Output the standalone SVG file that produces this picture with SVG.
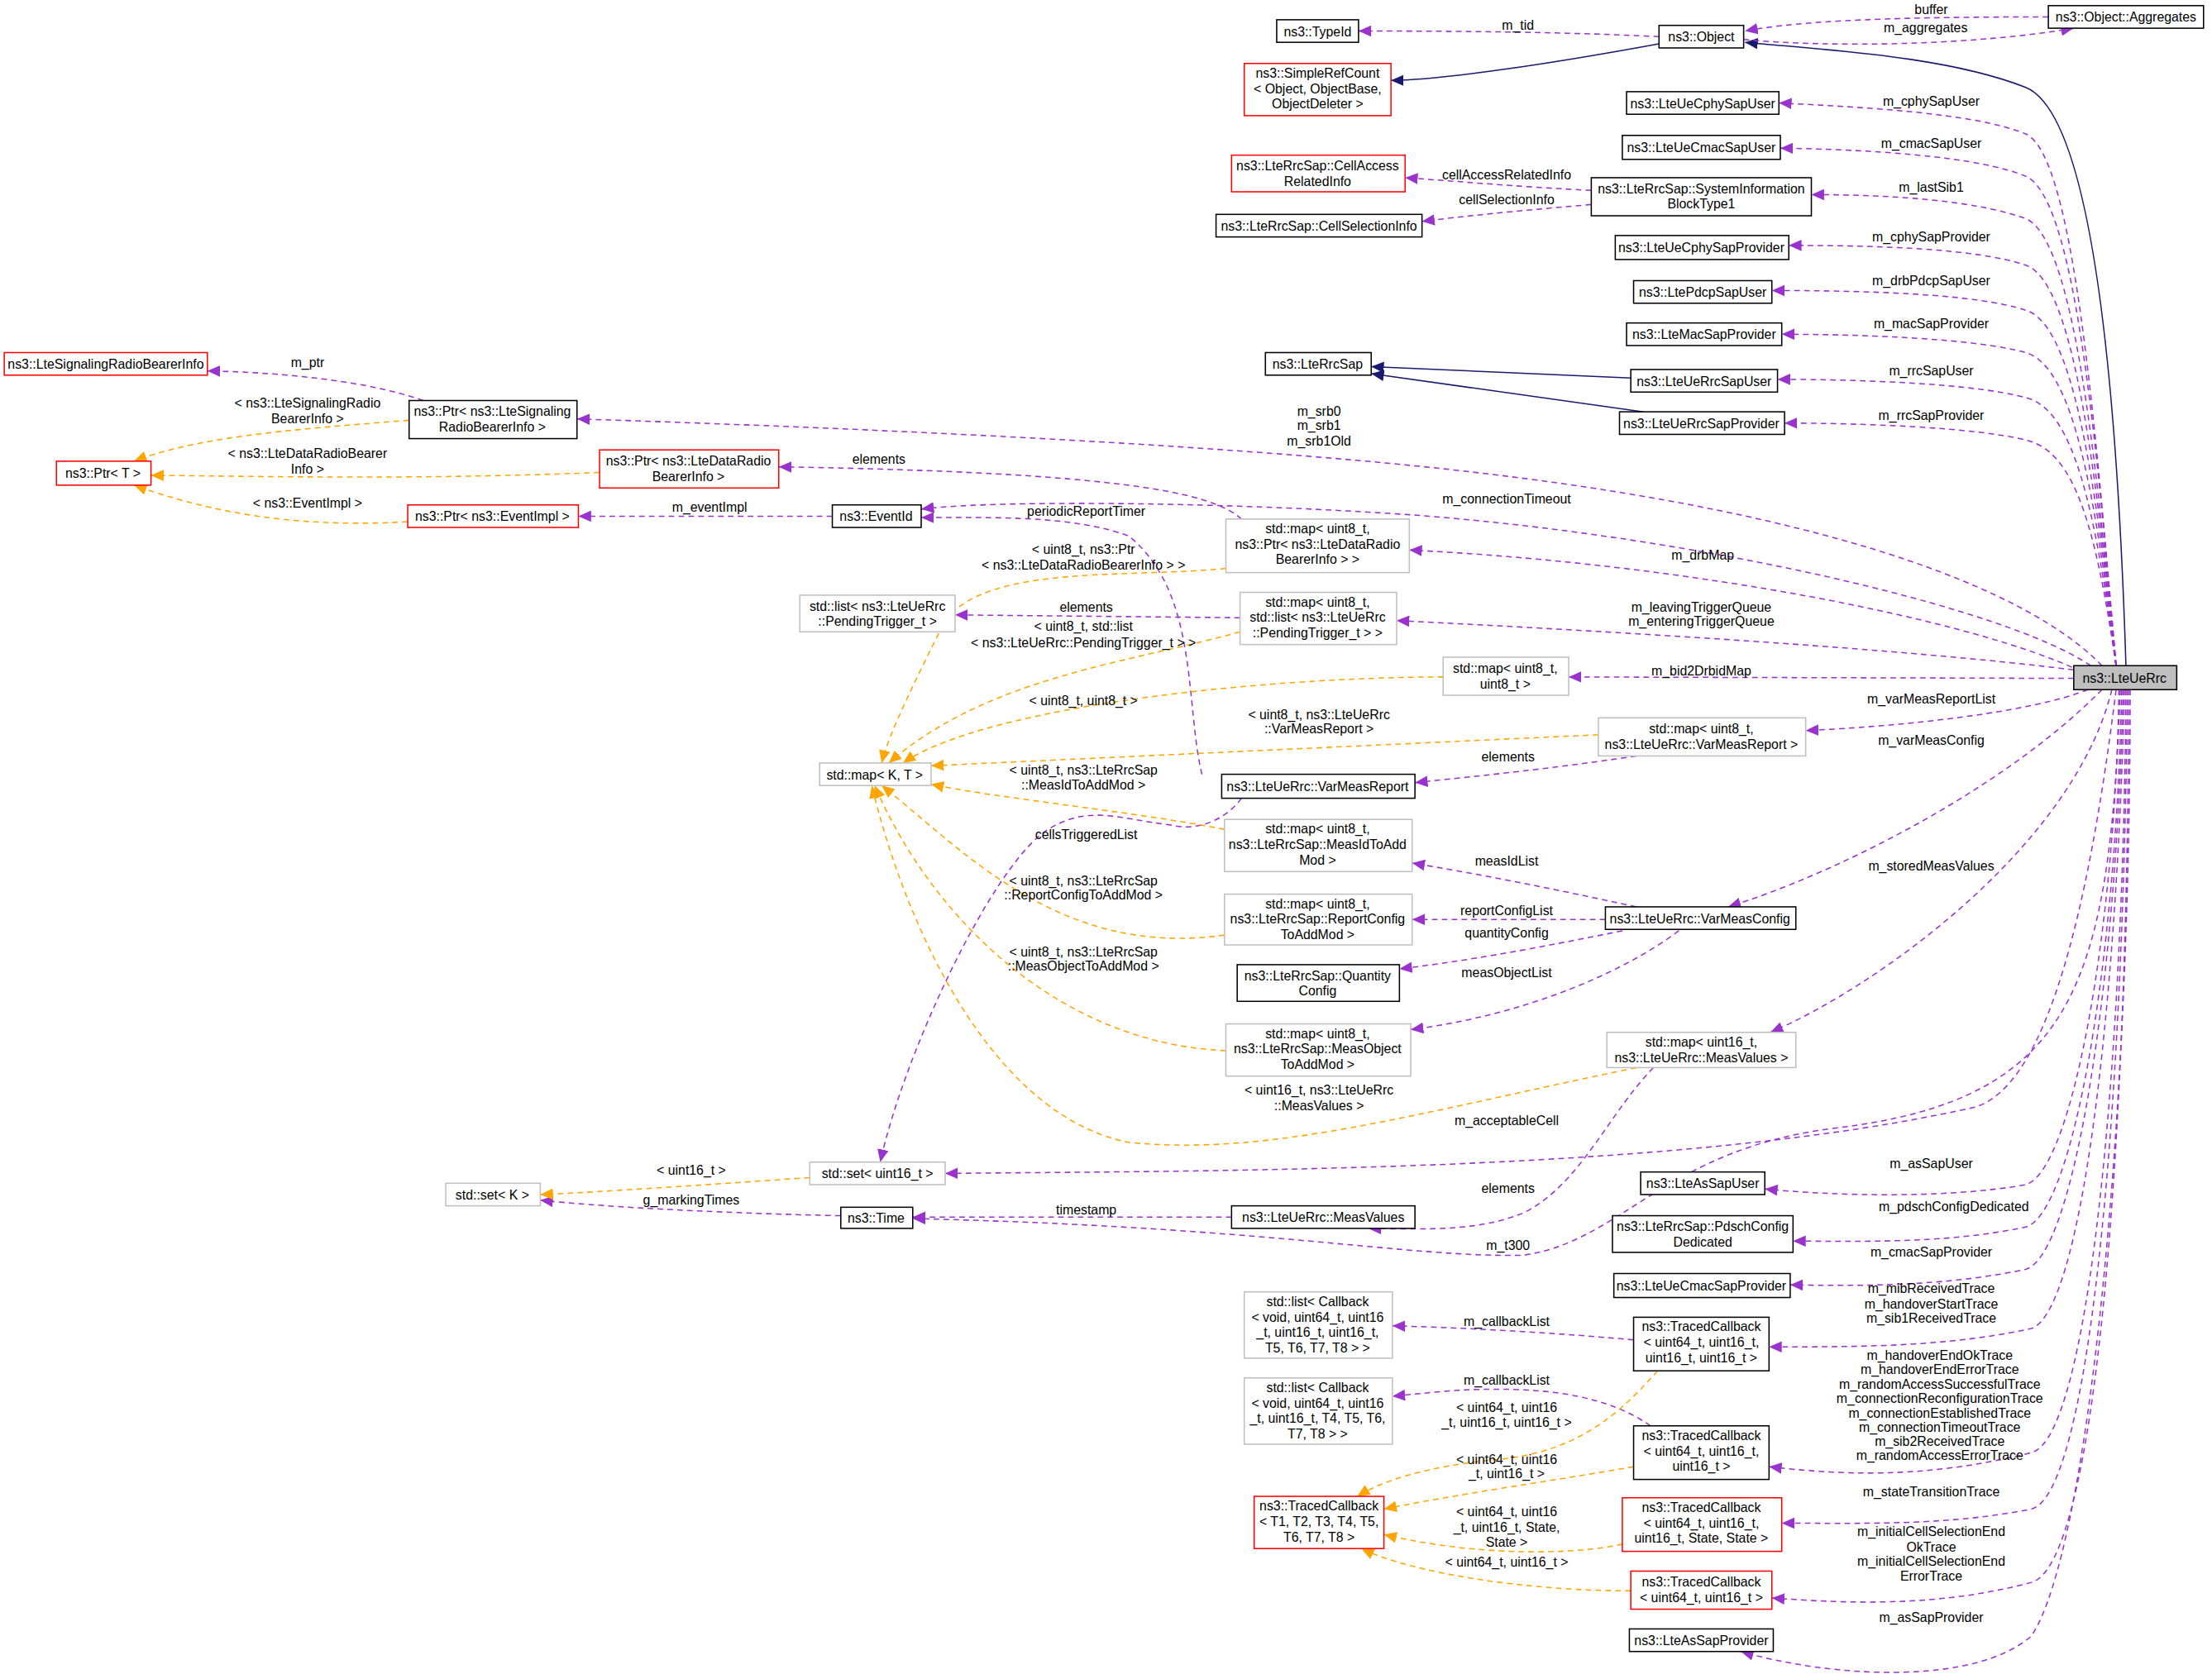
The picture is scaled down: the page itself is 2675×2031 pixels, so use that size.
<svg xmlns="http://www.w3.org/2000/svg" width="2675" height="2031" viewBox="0 0 2675 2031">
<style>
rect{stroke-width:0.9}
.n rect{fill:#fff;stroke:#000}
.r rect{fill:#fff;stroke:#ff0000}
.g rect{fill:#fff;stroke:#bfbfbf}
.s rect{fill:#bfbfbf;stroke:#000}
text{font-family:"Liberation Sans",Arial,sans-serif;font-size:9.3px;fill:#000}
.n text,.r text,.g text,.s text{text-anchor:middle}
.lb{text-anchor:middle}
.p{fill:none;stroke:#9a32cd;stroke-width:0.9;stroke-dasharray:4,3;marker-end:url(#mp)}
.o{fill:none;stroke:#ffa500;stroke-width:0.9;stroke-dasharray:4,3;marker-end:url(#mo)}
.b{fill:none;stroke:#191970;stroke-width:0.9;marker-end:url(#mb)}
</style>
<defs>
<marker id="mp" markerUnits="userSpaceOnUse" markerWidth="10" markerHeight="8" refX="9" refY="4" orient="auto"><path d="M0,0L9,4L0,8z" fill="#9a32cd"/></marker>
<marker id="mo" markerUnits="userSpaceOnUse" markerWidth="10" markerHeight="8" refX="9" refY="4" orient="auto"><path d="M0,0L9,4L0,8z" fill="#ffa500"/></marker>
<marker id="mb" markerUnits="userSpaceOnUse" markerWidth="10" markerHeight="8" refX="9" refY="4" orient="auto"><path d="M0,0L9,4L0,8z" fill="#191970"/></marker>
</defs>
<rect width="2675" height="2031" fill="#fff"/>
<g transform="scale(1.706)">
<g id="edges">
<path class="b" d="M1507,472C1500,250 1480,80 1436,62C1380,40 1300,36 1237,30"/>
<path class="b" d="M1176,31C1100,45 1020,57 986,57"/>
<path class="b" d="M1156,268L972,260"/>
<path class="b" d="M1165,292L972,265"/>
<path class="p" d="M1176,26C1100,22 1000,22 963,22"/>
<path class="p" d="M1452,12C1350,12 1280,14 1237,22"/>
<path class="p" d="M1236,28C1300,34 1400,32 1470,20"/>
<path class="p" d="M1128,135C1070,132 1040,129 996,126"/>
<path class="p" d="M1128,145C1070,150 1040,153 1008,157"/>
<path class="p" d="M1500,472C1485,300 1470,110 1436,95C1400,80 1320,76 1261,73"/>
<path class="p" d="M1500,472C1485,300 1470,140 1436,125C1400,110 1320,106 1262,105"/>
<path class="p" d="M1500,472C1485,320 1470,170 1436,155C1400,142 1340,138 1284,138"/>
<path class="p" d="M1500,472C1485,330 1470,200 1436,188C1400,176 1330,174 1268,174"/>
<path class="p" d="M1500,472C1485,340 1470,230 1436,220C1400,208 1320,206 1256,206"/>
<path class="p" d="M1500,472C1485,350 1470,260 1436,250C1400,240 1320,237 1263,237"/>
<path class="p" d="M1500,472C1485,360 1470,290 1436,282C1400,272 1320,269 1260,269"/>
<path class="p" d="M1500,472C1485,370 1470,320 1436,312C1400,303 1320,300 1265,300"/>
<path class="p" d="M1490,472C1440,420 1300,360 1000,330C800,310 500,300 409,297"/>
<path class="p" d="M1482,472C1420,430 1200,380 1000,365C850,355 700,355 653,361"/>
<path class="p" d="M852,549C840,500 850,420 800,380C760,365 700,367 653,367"/>
<path class="p" d="M880,368C860,350 800,335 552,331"/>
<path class="p" d="M1475,476C1400,440 1200,400 999,390"/>
<path class="p" d="M1470,475C1350,460 1150,448 990,440"/>
<path class="p" d="M879,438L677,436"/>
<path class="p" d="M1470,481L1112,480"/>
<path class="p" d="M1480,489C1440,505 1350,515 1280,518"/>
<path class="p" d="M1490,489C1420,560 1300,620 1225,643"/>
<path class="p" d="M1497,489C1470,600 1330,700 1255,732"/>
<path class="p" d="M1160,536C1100,545 1050,550 1003,555"/>
<path class="p" d="M1160,643C1100,630 1050,620 1001,612"/>
<path class="p" d="M1138,652L1001,652"/>
<path class="p" d="M1150,660C1100,670 1050,680 992,687"/>
<path class="p" d="M1190,660C1150,690 1080,720 1000,730"/>
<path class="p" d="M1500,489C1480,650 1450,770 1400,785C1200,830 900,830 670,832"/>
<path class="p" d="M880,566C870,580 850,590 830,585C790,580 770,570 740,590C700,620 640,750 624,824"/>
<path class="p" d="M1172,757C1140,790 1120,840 1080,860C1050,872 1020,872 970,871"/>
<path class="p" d="M1503,489C1495,700 1470,780 1300,800C1180,815 1150,880 1080,890C1000,892 900,870 647,864"/>
<path class="p" d="M873,863L647,863"/>
<path class="p" d="M596,862C500,860 420,855 383,851"/>
<path class="p" d="M1502,489C1500,650 1470,830 1436,840C1380,850 1300,848 1251,843"/>
<path class="p" d="M1504,489C1500,680 1470,860 1436,870C1380,882 1320,880 1271,880"/>
<path class="p" d="M1505,489C1500,700 1470,890 1436,900C1380,912 1320,912 1269,911"/>
<path class="p" d="M1506,489C1500,720 1475,930 1440,942C1380,955 1320,955 1254,955"/>
<path class="p" d="M1507,489C1505,760 1480,1020 1440,1030C1360,1050 1300,1045 1254,1040"/>
<path class="p" d="M1508,489C1505,800 1480,1060 1440,1070C1380,1082 1320,1080 1263,1080"/>
<path class="p" d="M1509,489C1508,820 1485,1110 1440,1122C1380,1138 1320,1138 1256,1133"/>
<path class="p" d="M1510,489C1510,800 1480,1100 1440,1160C1400,1195 1300,1190 1234,1171"/>
<path class="p" d="M1158,950C1100,945 1050,942 987,940"/>
<path class="p" d="M1170,1011C1140,990 1100,985 1060,985C1030,985 1010,988 987,990"/>
<path class="p" d="M300,284C260,270 200,264 147,263"/>
<path class="p" d="M590,366L410,366"/>
<path class="o" d="M574,835C500,840 430,845 383,847"/>
<path class="o" d="M290,298C200,305 140,310 95,327"/>
<path class="o" d="M425,335C300,340 200,338 107,337"/>
<path class="o" d="M289,370C200,375 140,360 95,344"/>
<path class="o" d="M869,403C800,410 700,400 670,440C650,480 630,520 625,541"/>
<path class="o" d="M879,448C800,470 700,480 630,541"/>
<path class="o" d="M1023,480C900,480 700,500 640,541"/>
<path class="o" d="M1133,521L660,543"/>
<path class="o" d="M868,588C800,575 700,565 660,556"/>
<path class="o" d="M868,663C750,680 680,600 625,557"/>
<path class="o" d="M869,745C750,740 660,650 620,557"/>
<path class="o" d="M1160,757C1000,790 900,820 800,810C700,790 640,650 618,557"/>
<path class="o" d="M1175,972C1150,1000 1120,1030 1060,1035C1010,1040 980,1050 962,1061"/>
<path class="o" d="M1158,1040C1100,1050 1030,1060 981,1070"/>
<path class="o" d="M1150,1095C1100,1105 1030,1100 981,1088"/>
<path class="o" d="M1156,1128C1080,1128 1000,1115 965,1098"/>
</g>
<g id="labels">
<text class="lb" x="1076" y="21">m_tid</text>
<text class="lb" x="1369" y="10">buffer</text>
<text class="lb" x="1365" y="23">m_aggregates</text>
<text class="lb" x="1369" y="75">m_cphySapUser</text>
<text class="lb" x="1369" y="105">m_cmacSapUser</text>
<text class="lb" x="1369" y="136">m_lastSib1</text>
<text class="lb" x="1369" y="171">m_cphySapProvider</text>
<text class="lb" x="1369" y="202">m_drbPdcpSapUser</text>
<text class="lb" x="1369" y="233">m_macSapProvider</text>
<text class="lb" x="1369" y="266">m_rrcSapUser</text>
<text class="lb" x="1369" y="298">m_rrcSapProvider</text>
<text class="lb" x="1068" y="127">cellAccessRelatedInfo</text>
<text class="lb" x="1068" y="145">cellSelectionInfo</text>
<text class="lb" x="935" y="295">m_srb0</text>
<text class="lb" x="935" y="305">m_srb1</text>
<text class="lb" x="935" y="316">m_srb1Old</text>
<text class="lb" x="1068" y="357">m_connectionTimeout</text>
<text class="lb" x="770" y="366">periodicReportTimer</text>
<text class="lb" x="623" y="329">elements</text>
<text class="lb" x="1207" y="397">m_drbMap</text>
<text class="lb" x="1206" y="434">m_leavingTriggerQueue</text>
<text class="lb" x="1206" y="444">m_enteringTriggerQueue</text>
<text class="lb" x="770" y="434">elements</text>
<text class="lb" x="1206" y="479">m_bid2DrbidMap</text>
<text class="lb" x="1369" y="499">m_varMeasReportList</text>
<text class="lb" x="1369" y="528">m_varMeasConfig</text>
<text class="lb" x="1369" y="617">m_storedMeasValues</text>
<text class="lb" x="1069" y="540">elements</text>
<text class="lb" x="1068" y="614">measIdList</text>
<text class="lb" x="1068" y="649">reportConfigList</text>
<text class="lb" x="1068" y="665">quantityConfig</text>
<text class="lb" x="1068" y="693">measObjectList</text>
<text class="lb" x="1068" y="798">m_acceptableCell</text>
<text class="lb" x="770" y="595">cellsTriggeredList</text>
<text class="lb" x="1069" y="846">elements</text>
<text class="lb" x="1069" y="886">m_t300</text>
<text class="lb" x="770" y="861">timestamp</text>
<text class="lb" x="490" y="854">g_markingTimes</text>
<text class="lb" x="490" y="833">&lt; uint16_t &gt;</text>
<text class="lb" x="1369" y="828">m_asSapUser</text>
<text class="lb" x="1385" y="859">m_pdschConfigDedicated</text>
<text class="lb" x="1369" y="891">m_cmacSapProvider</text>
<text class="lb" x="1369" y="917">m_mibReceivedTrace</text>
<text class="lb" x="1369" y="928">m_handoverStartTrace</text>
<text class="lb" x="1369" y="938">m_sib1ReceivedTrace</text>
<text class="lb" x="1375" y="964">m_handoverEndOkTrace</text>
<text class="lb" x="1375" y="974">m_handoverEndErrorTrace</text>
<text class="lb" x="1375" y="985">m_randomAccessSuccessfulTrace</text>
<text class="lb" x="1375" y="995">m_connectionReconfigurationTrace</text>
<text class="lb" x="1375" y="1005">m_connectionEstablishedTrace</text>
<text class="lb" x="1375" y="1015">m_connectionTimeoutTrace</text>
<text class="lb" x="1375" y="1025">m_sib2ReceivedTrace</text>
<text class="lb" x="1375" y="1035">m_randomAccessErrorTrace</text>
<text class="lb" x="1369" y="1061">m_stateTransitionTrace</text>
<text class="lb" x="1369" y="1089">m_initialCellSelectionEnd</text>
<text class="lb" x="1369" y="1100">OkTrace</text>
<text class="lb" x="1369" y="1110">m_initialCellSelectionEnd</text>
<text class="lb" x="1369" y="1121">ErrorTrace</text>
<text class="lb" x="1369" y="1150">m_asSapProvider</text>
<text class="lb" x="1068" y="940">m_callbackList</text>
<text class="lb" x="1068" y="982">m_callbackList</text>
<text class="lb" x="1068" y="1001">&lt; uint64_t, uint16</text>
<text class="lb" x="1068" y="1012">_t, uint16_t, uint16_t &gt;</text>
<text class="lb" x="1068" y="1038">&lt; uint64_t, uint16</text>
<text class="lb" x="1068" y="1048">_t, uint16_t &gt;</text>
<text class="lb" x="1068" y="1075">&lt; uint64_t, uint16</text>
<text class="lb" x="1068" y="1086">_t, uint16_t, State,</text>
<text class="lb" x="1068" y="1097">State &gt;</text>
<text class="lb" x="1068" y="1111">&lt; uint64_t, uint16_t &gt;</text>
<text class="lb" x="218" y="260">m_ptr</text>
<text class="lb" x="218" y="289">&lt; ns3::LteSignalingRadio</text>
<text class="lb" x="218" y="300">BearerInfo &gt;</text>
<text class="lb" x="218" y="325">&lt; ns3::LteDataRadioBearer</text>
<text class="lb" x="218" y="336">Info &gt;</text>
<text class="lb" x="218" y="360">&lt; ns3::EventImpl &gt;</text>
<text class="lb" x="503" y="363">m_eventImpl</text>
<text class="lb" x="768" y="393">&lt; uint8_t, ns3::Ptr</text>
<text class="lb" x="768" y="404">&lt; ns3::LteDataRadioBearerInfo &gt; &gt;</text>
<text class="lb" x="768" y="447">&lt; uint8_t, std::list</text>
<text class="lb" x="768" y="459">&lt; ns3::LteUeRrc::PendingTrigger_t &gt; &gt;</text>
<text class="lb" x="768" y="500">&lt; uint8_t, uint8_t &gt;</text>
<text class="lb" x="935" y="510">&lt; uint8_t, ns3::LteUeRrc</text>
<text class="lb" x="935" y="520">::VarMeasReport &gt;</text>
<text class="lb" x="768" y="549">&lt; uint8_t, ns3::LteRrcSap</text>
<text class="lb" x="768" y="560">::MeasIdToAddMod &gt;</text>
<text class="lb" x="768" y="628">&lt; uint8_t, ns3::LteRrcSap</text>
<text class="lb" x="768" y="638">::ReportConfigToAddMod &gt;</text>
<text class="lb" x="768" y="678">&lt; uint8_t, ns3::LteRrcSap</text>
<text class="lb" x="768" y="688">::MeasObjectToAddMod &gt;</text>
<text class="lb" x="935" y="776">&lt; uint16_t, ns3::LteUeRrc</text>
<text class="lb" x="935" y="787">::MeasValues &gt;</text>
</g>
<g id="n1" class="n"><rect x="905" y="14" width="58" height="16"/><text x="934" y="25.5">ns3::TypeId</text></g>
<g id="n2" class="n"><rect x="1176" y="18" width="60" height="16"/><text x="1206" y="29.5">ns3::Object</text></g>
<g id="n3" class="n"><rect x="1452" y="4" width="110" height="16"/><text x="1507" y="15.5">ns3::Object::Aggregates</text></g>
<g id="n4" class="r"><rect x="882" y="45" width="104" height="37"/><text x="934" y="55">ns3::SimpleRefCount</text><text x="934" y="66">&lt; Object, ObjectBase,</text><text x="934" y="77">ObjectDeleter &gt;</text></g>
<g id="n5" class="n"><rect x="1153" y="65" width="108" height="16"/><text x="1207" y="76.5">ns3::LteUeCphySapUser</text></g>
<g id="n6" class="n"><rect x="1150" y="96" width="112" height="17"/><text x="1206" y="108">ns3::LteUeCmacSapUser</text></g>
<g id="n7" class="r"><rect x="873" y="110" width="123" height="26"/><text x="934" y="121">ns3::LteRrcSap::CellAccess</text><text x="934" y="132">RelatedInfo</text></g>
<g id="n8" class="n"><rect x="1128" y="126" width="156" height="27"/><text x="1206" y="137">ns3::LteRrcSap::SystemInformation</text><text x="1206" y="148">BlockType1</text></g>
<g id="n9" class="n"><rect x="862" y="152" width="146" height="16"/><text x="935" y="163.5">ns3::LteRrcSap::CellSelectionInfo</text></g>
<g id="n10" class="n"><rect x="1145" y="167" width="123" height="17"/><text x="1206" y="179">ns3::LteUeCphySapProvider</text></g>
<g id="n11" class="n"><rect x="1158" y="199" width="98" height="16"/><text x="1207" y="210.5">ns3::LtePdcpSapUser</text></g>
<g id="n12" class="n"><rect x="1153" y="229" width="110" height="16"/><text x="1208" y="240.5">ns3::LteMacSapProvider</text></g>
<g id="n13" class="n"><rect x="897" y="250" width="75" height="16"/><text x="934" y="261.5">ns3::LteRrcSap</text></g>
<g id="n14" class="n"><rect x="1156" y="262" width="104" height="16"/><text x="1208" y="273.5">ns3::LteUeRrcSapUser</text></g>
<g id="n15" class="n"><rect x="1148" y="292" width="117" height="16"/><text x="1206" y="303.5">ns3::LteUeRrcSapProvider</text></g>
<g id="n16" class="r"><rect x="3" y="250" width="144" height="16"/><text x="75" y="261.5">ns3::LteSignalingRadioBearerInfo</text></g>
<g id="n17" class="n"><rect x="290" y="284" width="119" height="27"/><text x="349" y="295">ns3::Ptr&lt; ns3::LteSignaling</text><text x="349" y="306">RadioBearerInfo &gt;</text></g>
<g id="n18" class="r"><rect x="40" y="327" width="67" height="17"/><text x="73" y="339">ns3::Ptr&lt; T &gt;</text></g>
<g id="n19" class="r"><rect x="425" y="319" width="127" height="27"/><text x="488" y="330">ns3::Ptr&lt; ns3::LteDataRadio</text><text x="488" y="341">BearerInfo &gt;</text></g>
<g id="n20" class="r"><rect x="289" y="358" width="121" height="16"/><text x="349" y="369.5">ns3::Ptr&lt; ns3::EventImpl &gt;</text></g>
<g id="n21" class="n"><rect x="590" y="358" width="63" height="16"/><text x="621" y="369.5">ns3::EventId</text></g>
<g id="n22" class="g"><rect x="869" y="368" width="130" height="38"/><text x="934" y="378">std::map&lt; uint8_t,</text><text x="934" y="389">ns3::Ptr&lt; ns3::LteDataRadio</text><text x="934" y="400">BearerInfo &gt; &gt;</text></g>
<g id="n23" class="g"><rect x="567" y="422" width="110" height="26"/><text x="622" y="433">std::list&lt; ns3::LteUeRrc</text><text x="622" y="444">::PendingTrigger_t &gt;</text></g>
<g id="n24" class="g"><rect x="879" y="420" width="111" height="37"/><text x="934" y="430">std::map&lt; uint8_t,</text><text x="934" y="441">std::list&lt; ns3::LteUeRrc</text><text x="934" y="452">::PendingTrigger_t &gt; &gt;</text></g>
<g id="n25" class="s"><rect x="1470" y="472" width="73" height="17"/><text x="1506" y="484">ns3::LteUeRrc</text></g>
<g id="n26" class="g"><rect x="1023" y="466" width="89" height="27"/><text x="1067" y="477">std::map&lt; uint8_t,</text><text x="1067" y="488">uint8_t &gt;</text></g>
<g id="n27" class="g"><rect x="1133" y="509" width="147" height="27"/><text x="1206" y="520">std::map&lt; uint8_t,</text><text x="1206" y="531">ns3::LteUeRrc::VarMeasReport &gt;</text></g>
<g id="n28" class="g"><rect x="581" y="541" width="79" height="16"/><text x="620" y="552.5">std::map&lt; K, T &gt;</text></g>
<g id="n29" class="n"><rect x="866" y="549" width="137" height="17"/><text x="934" y="561">ns3::LteUeRrc::VarMeasReport</text></g>
<g id="n30" class="g"><rect x="868" y="581" width="133" height="37"/><text x="934" y="591">std::map&lt; uint8_t,</text><text x="934" y="602">ns3::LteRrcSap::MeasIdToAdd</text><text x="934" y="613">Mod &gt;</text></g>
<g id="n31" class="g"><rect x="868" y="634" width="133" height="36"/><text x="934" y="644">std::map&lt; uint8_t,</text><text x="934" y="655">ns3::LteRrcSap::ReportConfig</text><text x="934" y="666">ToAddMod &gt;</text></g>
<g id="n32" class="n"><rect x="1138" y="643" width="135" height="16"/><text x="1205" y="654.5">ns3::LteUeRrc::VarMeasConfig</text></g>
<g id="n33" class="n"><rect x="877" y="684" width="115" height="26"/><text x="934" y="695">ns3::LteRrcSap::Quantity</text><text x="934" y="706">Config</text></g>
<g id="n34" class="g"><rect x="869" y="726" width="131" height="37"/><text x="934" y="736">std::map&lt; uint8_t,</text><text x="934" y="747">ns3::LteRrcSap::MeasObject</text><text x="934" y="758">ToAddMod &gt;</text></g>
<g id="n35" class="g"><rect x="1139" y="732" width="134" height="25"/><text x="1206" y="742">std::map&lt; uint16_t,</text><text x="1206" y="753">ns3::LteUeRrc::MeasValues &gt;</text></g>
<g id="n36" class="g"><rect x="574" y="824" width="96" height="16"/><text x="622" y="835.5">std::set&lt; uint16_t &gt;</text></g>
<g id="n37" class="g"><rect x="316" y="839" width="67" height="16"/><text x="349" y="850.5">std::set&lt; K &gt;</text></g>
<g id="n38" class="n"><rect x="596" y="856" width="51" height="15"/><text x="621" y="867">ns3::Time</text></g>
<g id="n39" class="n"><rect x="873" y="855" width="130" height="16"/><text x="938" y="866.5">ns3::LteUeRrc::MeasValues</text></g>
<g id="n40" class="n"><rect x="1163" y="831" width="88" height="16"/><text x="1207" y="842.5">ns3::LteAsSapUser</text></g>
<g id="n41" class="n"><rect x="1143" y="862" width="128" height="26"/><text x="1207" y="873">ns3::LteRrcSap::PdschConfig</text><text x="1207" y="884">Dedicated</text></g>
<g id="n42" class="n"><rect x="1144" y="903" width="125" height="17"/><text x="1206" y="915">ns3::LteUeCmacSapProvider</text></g>
<g id="n43" class="g"><rect x="882" y="916" width="105" height="47"/><text x="934" y="926">std::list&lt; Callback</text><text x="934" y="937">&lt; void, uint64_t, uint16</text><text x="934" y="948">_t, uint16_t, uint16_t,</text><text x="934" y="959">T5, T6, T7, T8 &gt; &gt;</text></g>
<g id="n44" class="n"><rect x="1158" y="934" width="96" height="38"/><text x="1206" y="944">ns3::TracedCallback</text><text x="1206" y="955">&lt; uint64_t, uint16_t,</text><text x="1206" y="966">uint16_t, uint16_t &gt;</text></g>
<g id="n45" class="g"><rect x="882" y="977" width="105" height="47"/><text x="934" y="987">std::list&lt; Callback</text><text x="934" y="998">&lt; void, uint64_t, uint16</text><text x="934" y="1009">_t, uint16_t, T4, T5, T6,</text><text x="934" y="1020">T7, T8 &gt; &gt;</text></g>
<g id="n46" class="n"><rect x="1158" y="1011" width="96" height="38"/><text x="1206" y="1021">ns3::TracedCallback</text><text x="1206" y="1032">&lt; uint64_t, uint16_t,</text><text x="1206" y="1043">uint16_t &gt;</text></g>
<g id="n47" class="r"><rect x="889" y="1061" width="92" height="37"/><text x="935" y="1071">ns3::TracedCallback</text><text x="935" y="1082">&lt; T1, T2, T3, T4, T5,</text><text x="935" y="1093">T6, T7, T8 &gt;</text></g>
<g id="n48" class="r"><rect x="1150" y="1062" width="113" height="38"/><text x="1206" y="1072">ns3::TracedCallback</text><text x="1206" y="1083">&lt; uint64_t, uint16_t,</text><text x="1206" y="1094">uint16_t, State, State &gt;</text></g>
<g id="n49" class="r"><rect x="1156" y="1114" width="100" height="27"/><text x="1206" y="1125">ns3::TracedCallback</text><text x="1206" y="1136">&lt; uint64_t, uint16_t &gt;</text></g>
<g id="n50" class="n"><rect x="1155" y="1155" width="102" height="16"/><text x="1206" y="1166.5">ns3::LteAsSapProvider</text></g>
</g>
</svg>
